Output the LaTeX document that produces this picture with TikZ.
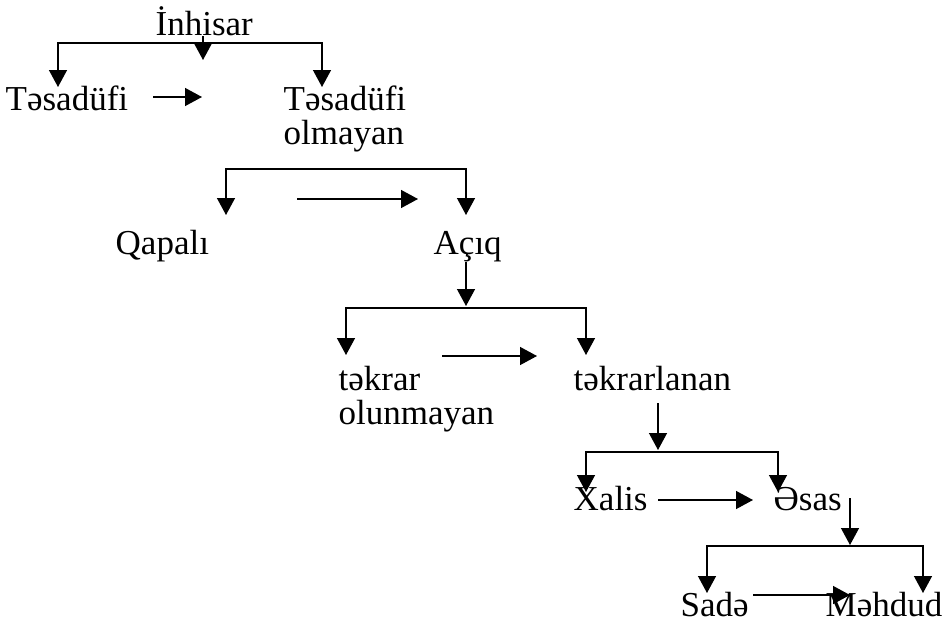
\documentclass[tikz,border=0pt]{standalone}
\usepackage{fontspec}
\setmainfont{Liberation Serif}
\usetikzlibrary{arrows.meta}

\begin{document}
\begin{tikzpicture}[x=0.5pt,y=-0.5pt,line width=0.7pt,
	lbl/.style={inner sep=0pt,anchor=base west,align=left,
		font=\fontsize{17.5}{17}\selectfont},
	arr/.style={-{Triangle[length=8.5pt,width=9pt]}},
	brk/.style={{Triangle[length=8.5pt,width=9pt]}-{Triangle[length=8.5pt,width=9pt]}}]
	\useasboundingbox (0,0) rectangle (948,621);
	% texts (base of the last line)
	\node[lbl] (inh) at (155,35) {İnhisar};
	\node[lbl] (tes) at (5,110) {Təsadüfi};
	\node[lbl] (teso) at (283,144) {Təsadüfi\\olmayan};
	\node[lbl] (qap) at (115,254) {Qapalı};
	\node[lbl] (aciq) at (433,254) {Açıq};
	\node[lbl] (tkr) at (338,424) {təkrar\\olunmayan};
	\node[lbl] (tkl) at (573,390) {təkrarlanan};
	\node[lbl] (xal) at (573,510) {Xalis};
	\node[lbl] (esas) at (773,510) {Əsas};
	\node[lbl] (sade) at (680,616) {Sadə};
	\node[lbl] (mhd) at (825,616) {Məhdud};
	% level 1
	\coordinate (m1) at (203,60);
	\coordinate (j1) at (203,43);
	\coordinate (l1) at (58,87);
	\coordinate (r1) at (322,87);
	\draw[arr] (inh.south -| m1) -- (m1);
	\draw[brk] (l1) |- (j1) -| (r1);
	\coordinate (h1a) at (153,97);
	\coordinate (h1b) at (202,97);
	\draw[arr] (h1a) -- (h1b);
	% level 2
	\coordinate (j2) at (346,169);
	\coordinate (l2) at (226,215);
	\coordinate (r2) at (466,215);
	\draw[brk] (l2) |- (j2) -| (r2);
	\coordinate (h2a) at (297,199);
	\coordinate (h2b) at (418,199);
	\draw[arr] (h2a) -- (h2b);
	% level 3
	\coordinate (m3) at (466,306);
	\coordinate (j3) at (466,308);
	\coordinate (l3) at (346,355);
	\coordinate (r3) at (586,355);
	\draw[arr] (aciq.south -| m3) -- (m3);
	\draw[brk] (l3) |- (j3) -| (r3);
	\coordinate (h3a) at (442,356);
	\coordinate (h3b) at (537,356);
	\draw[arr] (h3a) -- (h3b);
	% level 4
	\coordinate (a4) at (658,403);
	\coordinate (m4) at (658,450);
	\coordinate (j4) at (658,452);
	\coordinate (l4) at (586,492);
	\coordinate (r4) at (778,492);
	\draw[arr] (a4) -- (m4);
	\draw[brk] (l4) |- (j4) -| (r4);
	\coordinate (h4a) at (658,500);
	\coordinate (h4b) at (753,500);
	\draw[arr] (h4a) -- (h4b);
	% level 5
	\coordinate (a5) at (850,498);
	\coordinate (m5) at (850,545);
	\coordinate (j5) at (850,546);
	\coordinate (l5) at (707,593);
	\coordinate (r5) at (923,593);
	\draw[arr] (a5) -- (m5);
	\draw[brk] (l5) |- (j5) -| (r5);
	\coordinate (h5a) at (753,595);
	\coordinate (h5b) at (850,595);
	\draw[arr] (h5a) -- (h5b);
\end{tikzpicture}
\end{document}
